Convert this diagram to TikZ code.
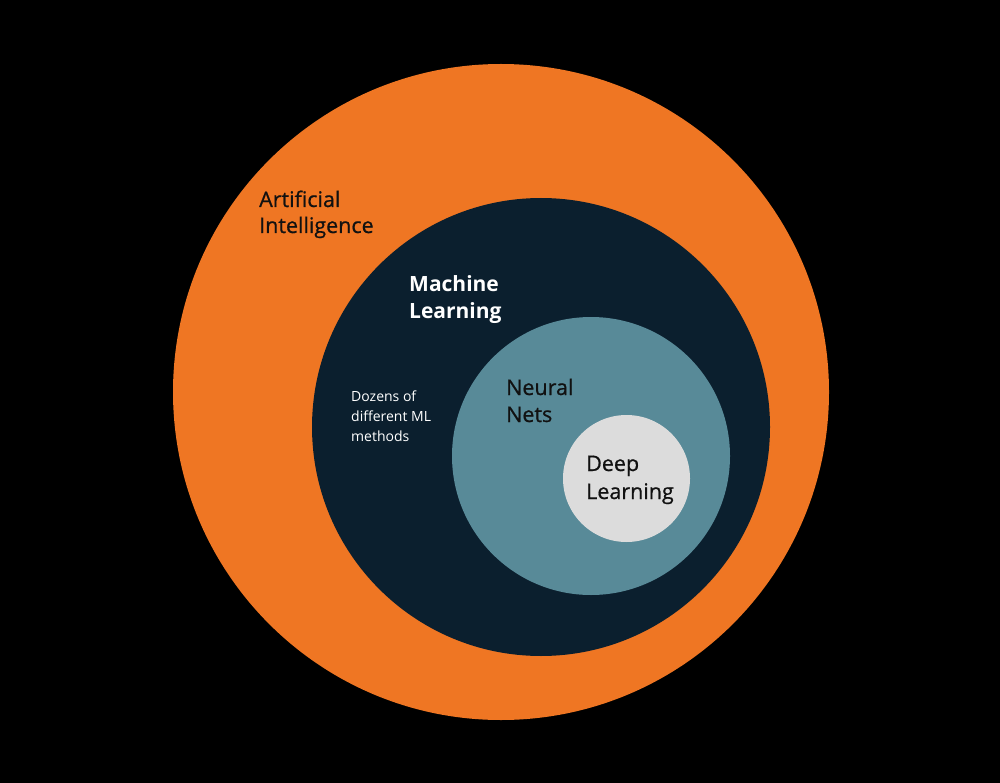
\documentclass[tikz,border=0pt]{standalone}
\usepackage{fontspec}
\setmainfont{Open Sans}[Ligatures=NoCommon]
\newfontfamily\medfont{Open Sans}[Ligatures=NoCommon, FakeBold=0.7]
\definecolor{bgblack}{HTML}{000000}
\definecolor{aiorange}{HTML}{EF7623}
\definecolor{mlnavy}{HTML}{0B1F2E}
\definecolor{nnteal}{HTML}{588A98}
\definecolor{dlgray}{HTML}{DCDCDC}
\definecolor{darktext}{HTML}{111111}
\tikzset{
  ring/.style={circle, inner sep=0pt, minimum size=#1},
  lbl/.style={anchor=base west, align=left, inner sep=0pt},
  smallfont/.style={font=\fontsize{14}{20}\selectfont},
}
\begin{document}
\begin{tikzpicture}[x=1pt,y=-1pt]
\fill[bgblack] (0,0) rectangle (1000,783);
\useasboundingbox (0,0) rectangle (1000,783);
\node[ring=656pt, fill=aiorange] (ai) at (501,392) {};
\node[ring=458pt, fill=mlnavy] (ml) at (541,427) {};
\node[ring=278pt, fill=nnteal] (nn) at (591,456) {};
\node[ring=127pt, fill=dlgray] (dl) at (626.5,478.5) {};
\node[lbl, font=\medfont\fontsize{21.5}{26}\selectfont, text=darktext] (ailbl) at (259,233) {Artificial\\Intelligence};
\node[lbl, text=white, font=\fontsize{21}{27}\selectfont\bfseries] (mllbl) at (409,318) {Machine\\Learning};
\node[lbl, smallfont, text=white] (mldesc) at (351,441) {Dozens of\\different ML\\methods};
\node[lbl, font=\medfont\fontsize{21.5}{27}\selectfont, text=darktext] (nnlbl) at (506,422) {Neural\\Nets};
\node[lbl, font=\medfont\fontsize{21.5}{28}\selectfont, text=darktext] (dllbl) at (586,499) {Deep\\Learning};
\end{tikzpicture}
\end{document}
